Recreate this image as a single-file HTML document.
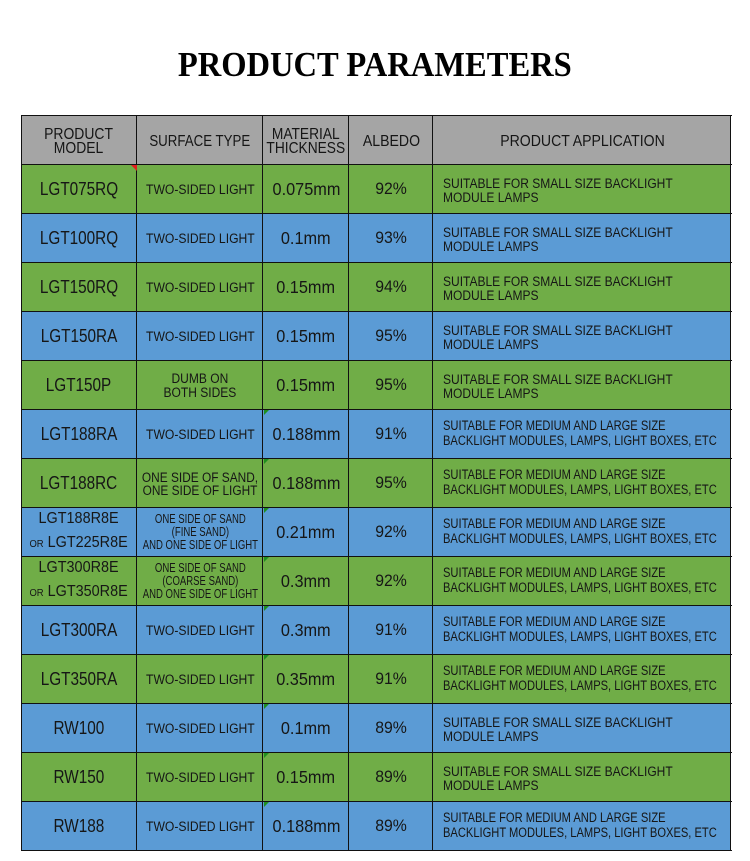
<!DOCTYPE html>
<html><head><meta charset="utf-8">
<style>
html,body{margin:0;padding:0;background:#fff;}
body{width:750px;height:861px;position:relative;overflow:hidden;font-family:"Liberation Sans",sans-serif;}
.title{position:absolute;left:0;top:47px;width:750px;height:35px;line-height:35px;text-align:center;font-family:"Liberation Serif",serif;font-weight:bold;font-size:35px;color:#000;}
.title span{display:inline-block;transform:scaleX(.93);white-space:nowrap;}
.bg{position:absolute;left:21px;width:710px;height:49px;}
.G{background:#70ad47;}.B{background:#5b9bd5;}.H{background:#a5a5a5;}
.hl{position:absolute;left:21px;width:711px;height:1px;background:#111;}
.vl{position:absolute;top:115px;width:1px;height:736px;background:#111;}
.t{position:absolute;height:49px;display:flex;align-items:center;justify-content:center;text-align:center;color:#161616;box-sizing:border-box;}
.t span{display:inline-block;white-space:nowrap;}
.m{left:21px;width:116px;font-size:18px;line-height:18px;}
.m span{transform:scaleX(.85);}
.m2{left:21px;width:116px;font-size:16px;line-height:24px;}
.m2 span{transform:scaleX(.9);}
.m2 small{font-size:10.5px;}
.s{left:137px;width:126px;font-size:13.5px;line-height:14.3px;padding-top:3px;}
.s span{transform:scaleX(.9);}
.s .w{transform:scaleX(.89);}
.s .x{transform:scaleX(.88);line-height:13px;}
.s .y{transform:scaleX(.765);font-size:12.5px;line-height:13.3px;}
.k{left:263px;width:86px;font-size:17.5px;line-height:18px;}
.k span{transform:scaleX(.93);}
.a{left:349px;width:84px;font-size:17px;line-height:18px;}
.a span{transform:scaleX(.93);}
.p{left:433px;width:298px;justify-content:flex-start;text-align:left;padding-left:9.5px;font-size:13.5px;line-height:14.3px;}
.p span{transform-origin:0 50%;}
.p.sm{padding-top:5px;}
.p.sm span{transform:scaleX(.89);}
.p.md span{transform:scaleX(.825);}
.h{top:115px;padding-top:5px;font-size:16px;line-height:13.7px;color:#151515;}
.rt{position:absolute;width:0;height:0;border-top:6px solid #e02020;border-left:6px solid transparent;}
.gt{position:absolute;left:264px;width:0;height:0;border-top:5px solid #1f8f1f;border-right:5px solid transparent;}
</style></head>
<body>
<div class="title"><span>PRODUCT PARAMETERS</span></div>

<div class="bg H" style="top:115px"></div>
<div class="bg G" style="top:164px"></div>
<div class="bg B" style="top:213px"></div>
<div class="bg G" style="top:262px"></div>
<div class="bg B" style="top:311px"></div>
<div class="bg G" style="top:360px"></div>
<div class="bg B" style="top:409px"></div>
<div class="bg G" style="top:458px"></div>
<div class="bg B" style="top:507px"></div>
<div class="bg G" style="top:556px"></div>
<div class="bg B" style="top:605px"></div>
<div class="bg G" style="top:654px"></div>
<div class="bg B" style="top:703px"></div>
<div class="bg G" style="top:752px"></div>
<div class="bg B" style="top:801px"></div>

<!-- header -->
<div class="t h" style="left:21px;width:116px"><span style="transform:scaleX(.87)">PRODUCT<br>MODEL</span></div>
<div class="t h" style="left:137px;width:126px"><span style="transform:scaleX(.83)">SURFACE TYPE</span></div>
<div class="t h" style="left:263px;width:86px"><span style="transform:scaleX(.86)">MATERIAL<br>THICKNESS</span></div>
<div class="t h" style="left:349px;width:84px"><span style="transform:scaleX(.88)">ALBEDO</span></div>
<div class="t h" style="left:433px;width:298px"><span style="transform:scaleX(.88)">PRODUCT APPLICATION</span></div>

<!-- row 1 -->
<div class="t m" style="top:164px"><span>LGT075RQ</span></div>
<div class="t s" style="top:164px"><span>TWO-SIDED LIGHT</span></div>
<div class="t k" style="top:164px"><span>0.075mm</span></div>
<div class="t a" style="top:164px"><span>92%</span></div>
<div class="t p sm" style="top:164px"><span>SUITABLE FOR SMALL SIZE BACKLIGHT<br>MODULE LAMPS</span></div>
<!-- row 2 -->
<div class="t m" style="top:213px"><span>LGT100RQ</span></div>
<div class="t s" style="top:213px"><span>TWO-SIDED LIGHT</span></div>
<div class="t k" style="top:213px"><span>0.1mm</span></div>
<div class="t a" style="top:213px"><span>93%</span></div>
<div class="t p sm" style="top:213px"><span>SUITABLE FOR SMALL SIZE BACKLIGHT<br>MODULE LAMPS</span></div>
<!-- row 3 -->
<div class="t m" style="top:262px"><span>LGT150RQ</span></div>
<div class="t s" style="top:262px"><span>TWO-SIDED LIGHT</span></div>
<div class="t k" style="top:262px"><span>0.15mm</span></div>
<div class="t a" style="top:262px"><span>94%</span></div>
<div class="t p sm" style="top:262px"><span>SUITABLE FOR SMALL SIZE BACKLIGHT<br>MODULE LAMPS</span></div>
<!-- row 4 -->
<div class="t m" style="top:311px"><span>LGT150RA</span></div>
<div class="t s" style="top:311px"><span>TWO-SIDED LIGHT</span></div>
<div class="t k" style="top:311px"><span>0.15mm</span></div>
<div class="t a" style="top:311px"><span>95%</span></div>
<div class="t p sm" style="top:311px"><span>SUITABLE FOR SMALL SIZE BACKLIGHT<br>MODULE LAMPS</span></div>
<!-- row 5 -->
<div class="t m" style="top:360px"><span>LGT150P</span></div>
<div class="t s" style="top:360px"><span class="w">DUMB ON<br>BOTH SIDES</span></div>
<div class="t k" style="top:360px"><span>0.15mm</span></div>
<div class="t a" style="top:360px"><span>95%</span></div>
<div class="t p sm" style="top:360px"><span>SUITABLE FOR SMALL SIZE BACKLIGHT<br>MODULE LAMPS</span></div>
<!-- row 6 -->
<div class="t m" style="top:409px"><span>LGT188RA</span></div>
<div class="t s" style="top:409px"><span>TWO-SIDED LIGHT</span></div>
<div class="t k" style="top:409px"><span>0.188mm</span></div>
<div class="t a" style="top:409px"><span>91%</span></div>
<div class="t p md" style="top:409px"><span>SUITABLE FOR MEDIUM AND LARGE SIZE<br>BACKLIGHT MODULES, LAMPS, LIGHT BOXES, ETC</span></div>
<!-- row 7 -->
<div class="t m" style="top:458px"><span>LGT188RC</span></div>
<div class="t s" style="top:458px"><span class="x">ONE SIDE OF SAND,<br>ONE SIDE OF LIGHT</span></div>
<div class="t k" style="top:458px"><span>0.188mm</span></div>
<div class="t a" style="top:458px"><span>95%</span></div>
<div class="t p md" style="top:458px"><span>SUITABLE FOR MEDIUM AND LARGE SIZE<br>BACKLIGHT MODULES, LAMPS, LIGHT BOXES, ETC</span></div>
<!-- row 8 -->
<div class="t m2" style="top:507px"><span>LGT188R8E<br><small>OR</small> LGT225R8E</span></div>
<div class="t s" style="top:507px;padding-top:2px"><span class="y">ONE SIDE OF SAND<br>(FINE SAND)<br>AND ONE SIDE OF LIGHT</span></div>
<div class="t k" style="top:507px"><span>0.21mm</span></div>
<div class="t a" style="top:507px"><span>92%</span></div>
<div class="t p md" style="top:507px"><span>SUITABLE FOR MEDIUM AND LARGE SIZE<br>BACKLIGHT MODULES, LAMPS, LIGHT BOXES, ETC</span></div>
<!-- row 9 -->
<div class="t m2" style="top:556px"><span>LGT300R8E<br><small>OR</small> LGT350R8E</span></div>
<div class="t s" style="top:556px;padding-top:2px"><span class="y">ONE SIDE OF SAND<br>(COARSE SAND)<br>AND ONE SIDE OF LIGHT</span></div>
<div class="t k" style="top:556px"><span>0.3mm</span></div>
<div class="t a" style="top:556px"><span>92%</span></div>
<div class="t p md" style="top:556px"><span>SUITABLE FOR MEDIUM AND LARGE SIZE<br>BACKLIGHT MODULES, LAMPS, LIGHT BOXES, ETC</span></div>
<!-- row 10 -->
<div class="t m" style="top:605px"><span>LGT300RA</span></div>
<div class="t s" style="top:605px"><span>TWO-SIDED LIGHT</span></div>
<div class="t k" style="top:605px"><span>0.3mm</span></div>
<div class="t a" style="top:605px"><span>91%</span></div>
<div class="t p md" style="top:605px"><span>SUITABLE FOR MEDIUM AND LARGE SIZE<br>BACKLIGHT MODULES, LAMPS, LIGHT BOXES, ETC</span></div>
<!-- row 11 -->
<div class="t m" style="top:654px"><span>LGT350RA</span></div>
<div class="t s" style="top:654px"><span>TWO-SIDED LIGHT</span></div>
<div class="t k" style="top:654px"><span>0.35mm</span></div>
<div class="t a" style="top:654px"><span>91%</span></div>
<div class="t p md" style="top:654px"><span>SUITABLE FOR MEDIUM AND LARGE SIZE<br>BACKLIGHT MODULES, LAMPS, LIGHT BOXES, ETC</span></div>
<!-- row 12 -->
<div class="t m" style="top:703px"><span>RW100</span></div>
<div class="t s" style="top:703px"><span>TWO-SIDED LIGHT</span></div>
<div class="t k" style="top:703px"><span>0.1mm</span></div>
<div class="t a" style="top:703px"><span>89%</span></div>
<div class="t p sm" style="top:703px"><span>SUITABLE FOR SMALL SIZE BACKLIGHT<br>MODULE LAMPS</span></div>
<!-- row 13 -->
<div class="t m" style="top:752px"><span>RW150</span></div>
<div class="t s" style="top:752px"><span>TWO-SIDED LIGHT</span></div>
<div class="t k" style="top:752px"><span>0.15mm</span></div>
<div class="t a" style="top:752px"><span>89%</span></div>
<div class="t p sm" style="top:752px"><span>SUITABLE FOR SMALL SIZE BACKLIGHT<br>MODULE LAMPS</span></div>
<!-- row 14 -->
<div class="t m" style="top:801px"><span>RW188</span></div>
<div class="t s" style="top:801px"><span>TWO-SIDED LIGHT</span></div>
<div class="t k" style="top:801px"><span>0.188mm</span></div>
<div class="t a" style="top:801px"><span>89%</span></div>
<div class="t p md" style="top:801px"><span>SUITABLE FOR MEDIUM AND LARGE SIZE<br>BACKLIGHT MODULES, LAMPS, LIGHT BOXES, ETC</span></div>

<!-- grid lines -->
<div class="hl" style="top:115px"></div>
<div class="hl" style="top:164px"></div>
<div class="hl" style="top:213px"></div>
<div class="hl" style="top:262px"></div>
<div class="hl" style="top:311px"></div>
<div class="hl" style="top:360px"></div>
<div class="hl" style="top:409px"></div>
<div class="hl" style="top:458px"></div>
<div class="hl" style="top:507px"></div>
<div class="hl" style="top:556px"></div>
<div class="hl" style="top:605px"></div>
<div class="hl" style="top:654px"></div>
<div class="hl" style="top:703px"></div>
<div class="hl" style="top:752px"></div>
<div class="hl" style="top:801px"></div>
<div class="hl" style="top:850px"></div>
<div class="vl" style="left:21px"></div>
<div class="vl" style="left:136px"></div>
<div class="vl" style="left:262px"></div>
<div class="vl" style="left:348px"></div>
<div class="vl" style="left:432px"></div>
<div class="vl" style="left:730px"></div>

<!-- comment markers -->
<div class="rt" style="left:131px;top:165px"></div>
<div class="gt" style="top:410px"></div>
<div class="gt" style="top:459px"></div>
<div class="gt" style="top:508px"></div>
<div class="gt" style="top:557px"></div>
<div class="gt" style="top:606px"></div>
<div class="gt" style="top:655px"></div>
<div class="gt" style="top:704px"></div>
<div class="gt" style="top:753px"></div>
<div class="gt" style="top:802px"></div>
</body></html>
